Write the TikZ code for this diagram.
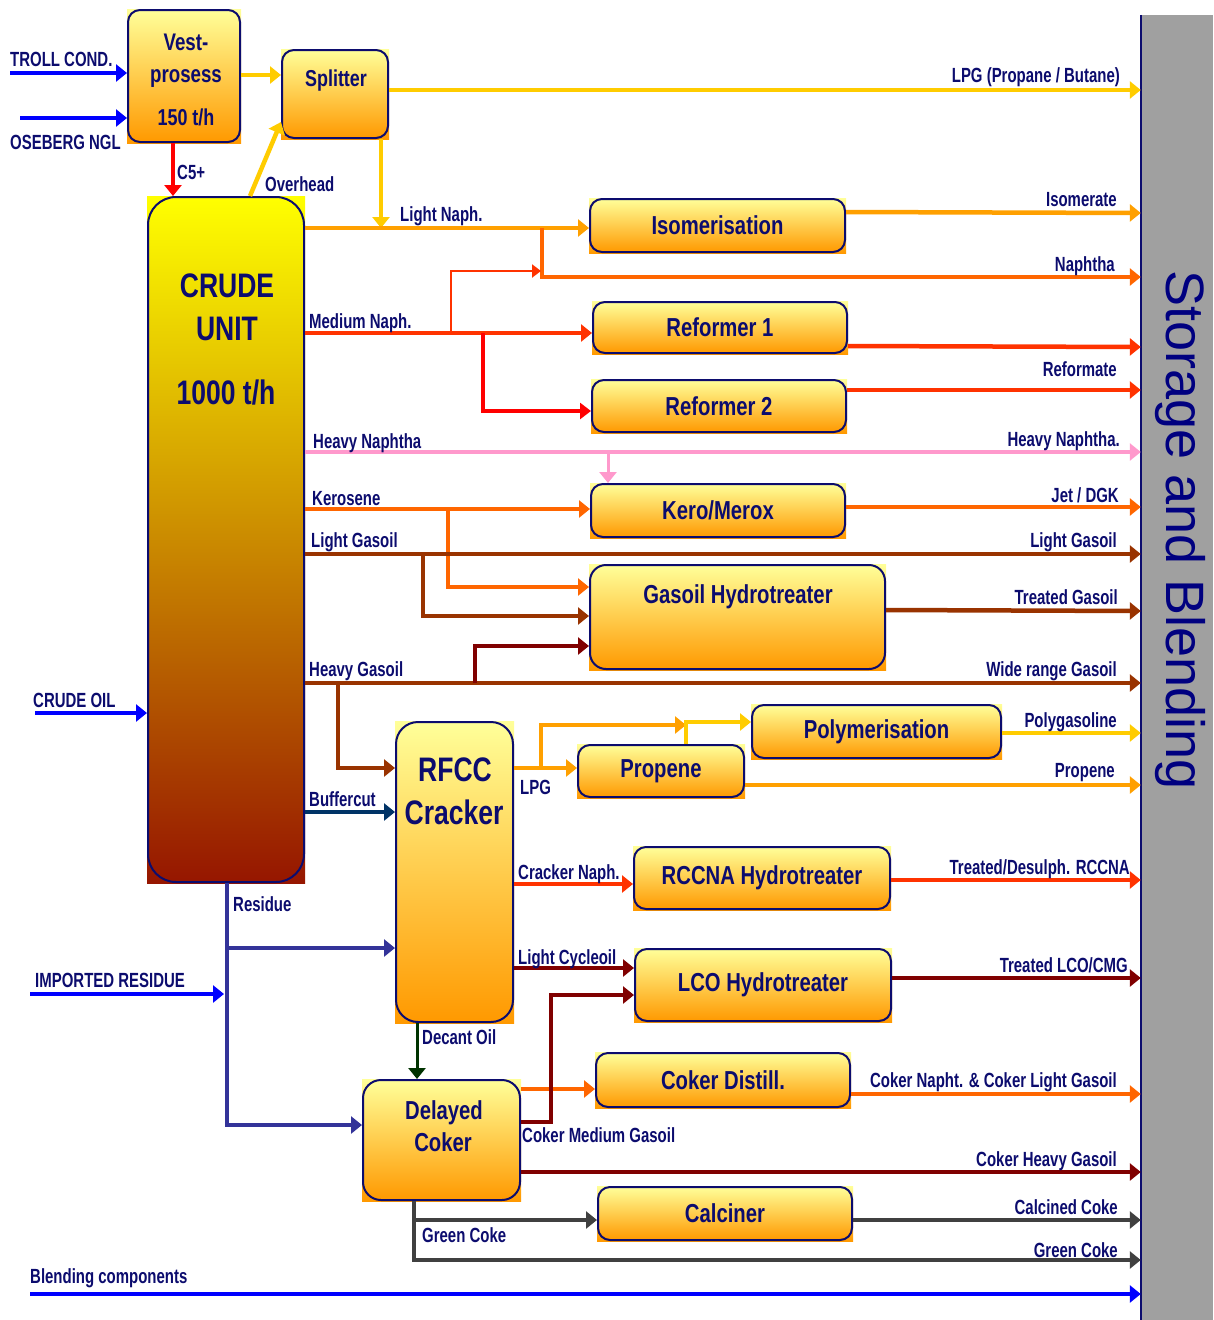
\documentclass[tikz,border=0pt]{standalone}
\usepackage{fontspec}
\setmainfont{Liberation Sans}
\newfontfamily\cond[FakeStretch=0.78]{Liberation Sans}
\newfontfamily\condl[FakeStretch=0.73]{Liberation Sans}
\usetikzlibrary{arrows.meta,backgrounds}
\definecolor{cBlue}{RGB}{0,0,255}
\definecolor{cYel}{RGB}{255,204,0}
\definecolor{cOrL}{RGB}{255,160,0}
\definecolor{cOrD}{RGB}{255,102,0}
\definecolor{cRedO}{RGB}{255,51,0}
\definecolor{cRed}{RGB}{255,0,0}
\definecolor{cPink}{RGB}{255,153,204}
\definecolor{cBrown}{RGB}{153,51,0}
\definecolor{cMaroon}{RGB}{128,0,0}
\definecolor{cBuf}{RGB}{0,51,102}
\definecolor{cRes}{RGB}{51,51,153}
\definecolor{cGreen}{RGB}{0,51,0}
\definecolor{cGray}{RGB}{64,64,64}
\definecolor{cStore}{RGB}{160,160,160}
\definecolor{boxtop}{RGB}{255,255,153}
\definecolor{boxbot}{RGB}{255,153,0}
\definecolor{crtop}{RGB}{255,255,0}
\definecolor{crmid}{RGB}{205,165,0}
\definecolor{crbot}{RGB}{150,22,0}
\definecolor{txt}{RGB}{12,12,110}
\definecolor{stortxt}{RGB}{0,0,128}
\begin{document}
\begin{tikzpicture}[x=1pt,y=-1pt,
  flow/.style={line width=4.5pt,-{Triangle[length=11pt,width=17pt]}},
  thinflow/.style={line width=2.5pt,-{Triangle[length=9pt,width=13pt]}},
  pipe/.style={line width=4.5pt},
  lbl/.style={font=\condl\bfseries\fontsize{20.5}{22}\selectfont,text=txt,inner sep=0pt},
  lbll/.style={lbl,anchor=base west},
  lblr/.style={lbl,anchor=base east},
  unit/.style={draw=txt,line width=2pt,rounded corners=12pt,top color=boxtop,bottom color=boxbot,inner sep=0pt,font=\cond\bfseries\fontsize{26}{28}\selectfont,text=txt,align=center},
  utext/.style={font=\cond\bfseries\fontsize{26}{28}\selectfont,text=txt,inner sep=0pt,anchor=base},
  bigtext/.style={font=\cond\bfseries\fontsize{34}{36}\selectfont,text=txt,inner sep=0pt,anchor=base}
]
\useasboundingbox (0,0) rectangle (1213,1320);

% storage bar
\node[fill=cStore,inner sep=0pt,minimum width=72pt,minimum height=1305pt] (storage) at (1177,667.5) {};
\draw[txt,line width=2pt] (storage.north west) -- (storage.south west);
\node[rotate=-90,font=\fontsize{54}{54}\selectfont,text=stortxt,inner sep=0pt] (stT) at (1180,530) {Storage and Blending};

% units
\node[unit,minimum width=112pt,minimum height=132pt] (vest) at (184,76) {};
\node[unit,minimum width=106pt,minimum height=88pt] (split) at (335,94) {};
\node[draw=txt,line width=2pt,rounded corners=28pt,top color=crtop,middle color=crmid,bottom color=crbot,minimum width=156pt,minimum height=685pt,inner sep=0pt] (crude) at (226,539.5) {};
\node[unit,minimum width=255pt,minimum height=53pt] (iso) at (717.5,225.5) {Isomerisation};
\node[unit,minimum width=254pt,minimum height=51pt] (ref1) at (720,327.5) {Reformer 1};
\node[unit,minimum width=254pt,minimum height=52pt] (ref2) at (719,406) {Reformer 2};
\node[unit,minimum width=254pt,minimum height=53pt] (kero) at (718,510.5) {Kero/Merox};
\node[unit,minimum width=295pt,minimum height=104pt,rounded corners=16pt] (goht) at (737.5,617) {};
\node[unit,minimum width=249pt,minimum height=53pt] (poly) at (876.5,731.5) {Polymerisation};
\node[unit,minimum width=166pt,minimum height=52pt] (prop) at (661,771) {Propene};
\node[unit,minimum width=117pt,minimum height=300pt,rounded corners=22pt] (rfcc) at (454.5,872) {};
\node[unit,minimum width=256pt,minimum height=62pt] (rccna) at (762,878) {RCCNA Hydrotreater};
\node[unit,minimum width=256pt,minimum height=72pt] (lco) at (763,985) {LCO Hydrotreater};
\node[unit,minimum width=254pt,minimum height=54pt] (cdist) at (723,1080) {Coker Distill.};
\node[unit,minimum width=157pt,minimum height=120pt,rounded corners=18pt] (dcoker) at (441.5,1140) {};
\node[unit,minimum width=254pt,minimum height=53pt] (calc) at (725,1213.5) {Calciner};

% square gradient backing (visible at corners)
\begin{scope}[on background layer]
\foreach \n in {vest,split,iso,ref1,ref2,kero,goht,poly,prop,rfcc,rccna,lco,cdist,dcoker,calc}
  \shade[top color=boxtop,bottom color=boxbot] (\n.north west) rectangle (\n.south east);
\shade[top color=crtop,middle color=crmid,bottom color=crbot] (crude.north west) rectangle (crude.south east);
\end{scope}

% unit texts
\node[utext,font=\cond\bfseries\fontsize{24}{26}\selectfont] (vestA) at (186,50) {Vest-};
\node[utext,font=\cond\bfseries\fontsize{24}{26}\selectfont] (vestB) at (186,82) {prosess};
\node[utext,font=\cond\bfseries\fontsize{23}{26}\selectfont] (vestC) at (186,125) {150 t/h};
\node[utext,font=\cond\bfseries\fontsize{23}{26}\selectfont] (splitT) at (336,86) {Splitter};
\node[bigtext] (crA) at (227,297) {CRUDE};
\node[bigtext] (crB) at (227,340) {UNIT};
\node[bigtext] (crC) at (226,404) {1000 t/h};
\node[utext] (gohtT) at (738,603) {Gasoil Hydrotreater};
\node[bigtext] (rfA) at (455,781) {RFCC};
\node[bigtext] (rfB) at (454,824) {Cracker};
\node[utext] (dcA) at (444,1119) {Delayed};
\node[utext] (dcB) at (443,1151) {Coker};

% free ends and junctions
\coordinate (trollS) at (10,73);
\coordinate (oseS) at (20,118);
\coordinate (crudeS) at (35,713);
\coordinate (impS) at (30,994);
\coordinate (impE) at (224,994);
\coordinate (blendS) at (30,1294);
\coordinate (lnJ) at (381,228);
\coordinate (nJ) at (542,228);
\coordinate (mJ1) at (451,333);
\coordinate (nT) at (541,271);
\coordinate (mJ2) at (483,333);
\coordinate (hnJ) at (608,452);
\coordinate (kJ) at (448,509);
\coordinate (lgJ) at (423,554);
\coordinate (hgJ1) at (475,683);
\coordinate (hgJ2) at (338,683);
\coordinate (rJ1) at (227,948);
\coordinate (rJ2) at (227,1125);
\coordinate (lpJ) at (541,768);
\coordinate (lpT) at (686,725);
\coordinate (pyJ) at (686,722);
\coordinate (cmJ) at (551,1122);
\coordinate (gcJ) at (414,1220);
\coordinate (gcK) at (414,1260);

% feeds
\draw[flow,cBlue] (trollS) -- (trollS -| vest.west);
\draw[flow,cBlue] (oseS) -- (oseS -| vest.west);
\draw[flow,cYel] (vest.east |- 0,75) -- (split.west |- 0,75);
\draw[flow,cRed] (vest.south -| 173,0) -- (crude.north -| 173,0);
\draw[flow,cYel] (crude.north -| 250,0) -- (split.west |- 0,122);
\draw[flow,cYel] (split.east |- 0,90) -- (storage.west |- 0,90);
\draw[flow,cYel] (split.south -| lnJ) -- (lnJ);
\draw[flow,cBlue] (crudeS) -- (crudeS -| crude.west);

% naphtha section
\draw[flow,cOrL] (crude.east |- 0,228) -- (iso.west |- 0,228);
\draw[flow,cOrD] (nJ) -- (542,277) -- (storage.west |- 0,277);
\draw[flow,cRedO] (crude.east |- 0,333) -- (ref1.west |- 0,333);
\draw[thinflow,cRedO] (mJ1) -- (mJ1 |- nT) -- (nT);
\draw[line width=3.5pt,-{Triangle[length=11pt,width=16pt]},cRed] (mJ2) -- (483,411) -- (ref2.west |- 0,411);
\draw[flow,cOrL] (iso.east |- 0,212) -- (storage.west |- 0,213);
\draw[flow,cRedO] (ref1.east |- 0,346) -- (storage.west |- 0,347);
\draw[flow,cRedO] (ref2.east |- 0,390) -- (storage.west |- 0,390);

% middle distillates
\draw[flow,cPink] (crude.east |- 0,452) -- (storage.west |- 0,452);
\draw[flow,cPink,line width=3pt] (hnJ) -- (hnJ |- kero.north);
\draw[flow,cOrD] (crude.east |- 0,509) -- (kero.west |- 0,509);
\draw[flow,cOrD] (kJ) -- (448,587) -- (goht.west |- 0,587);
\draw[flow,cOrD] (kero.east |- 0,507) -- (storage.west |- 0,507);
\draw[flow,cBrown] (crude.east |- 0,554) -- (storage.west |- 0,554);
\draw[flow,cBrown] (lgJ) -- (423,616) -- (goht.west |- 0,616);
\draw[flow,cBrown] (goht.east |- 0,610) -- (storage.west |- 0,611);
\draw[flow,cBrown] (crude.east |- 0,683) -- (storage.west |- 0,683);
\draw[flow,cMaroon] (hgJ1) -- (475,646) -- (goht.west |- 0,646);
\draw[flow,cBrown] (hgJ2) -- (338,768) -- (rfcc.west |- 0,768);
\draw[flow,cBuf] (crude.east |- 0,812) -- (rfcc.west |- 0,812);

% residue
\draw[flow,cRes] (crude.south -| rJ1) -- (rJ2) -- (rJ2 -| dcoker.west);
\draw[flow,cRes] (rJ1) -- (rJ1 -| rfcc.west);
\draw[flow,cBlue] (impS) -- (impE);

% RFCC products
\draw[flow,cOrL] (rfcc.east |- 0,768) -- (prop.west |- 0,768);
\draw[flow,cOrL] (lpJ) -- (lpJ |- lpT) -- (lpT);
\draw[flow,cYel] (prop.north -| pyJ) -- (pyJ) -- (poly.west |- pyJ);
\draw[flow,cYel] (poly.east |- 0,733) -- (storage.west |- 0,733);
\draw[flow,cOrL] (prop.east |- 0,785) -- (storage.west |- 0,785);
\draw[flow,cRedO] (rfcc.east |- 0,884) -- (rccna.west |- 0,884);
\draw[flow,cRedO] (rccna.east |- 0,880) -- (storage.west |- 0,880);
\draw[flow,cMaroon] (rfcc.east |- 0,968) -- (lco.west |- 0,968);
\draw[flow,cMaroon] (lco.east |- 0,978) -- (storage.west |- 0,978);
\draw[flow,cGreen,line width=3pt] (rfcc.south -| 417,0) -- (dcoker.north -| 417,0);

% coker products
\draw[flow,cOrD] (dcoker.east |- 0,1089) -- (cdist.west |- 0,1089);
\draw[flow,cMaroon,line width=3.5pt] (dcoker.east |- cmJ) -- (cmJ) -- (551,995) -- (lco.west |- 0,995);
\draw[flow,cOrD] (cdist.east |- 0,1094) -- (storage.west |- 0,1094);
\draw[flow,cMaroon] (dcoker.east |- 0,1172) -- (storage.west |- 0,1172);
\draw[flow,cGray] (dcoker.south -| gcK) -- (gcK) -- (storage.west |- gcK);
\draw[flow,cGray] (gcJ) -- (gcJ -| calc.west);
\draw[flow,cGray] (calc.east |- 0,1220) -- (storage.west |- 0,1220);
\draw[flow,cBlue] (blendS) -- (storage.west |- blendS);

% left labels
\node[lbll] (lTroll) at (10,66) {TROLL COND.};
\node[lbll] (lOse) at (10,149) {OSEBERG NGL};
\node[lbll] (lC5) at (177,179) {C5+};
\node[lbll] (lOver) at (265,191) {Overhead};
\node[lbll] (lLN) at (400,221) {Light Naph.};
\node[lbll] (lMN) at (309,328) {Medium Naph.};
\node[lbll] (lHN) at (313,448) {Heavy Naphtha};
\node[lbll] (lKer) at (312,505) {Kerosene};
\node[lbll] (lLG) at (311,547) {Light Gasoil};
\node[lbll] (lHG) at (309,676) {Heavy Gasoil};
\node[lbll] (lCO) at (33,707) {CRUDE OIL};
\node[lbll] (lBuf) at (309,806) {Buffercut};
\node[lbll] (lLPG) at (520,794) {LPG};
\node[lbll] (lCN) at (518,879) {Cracker Naph.};
\node[lbll] (lRes) at (233,911) {Residue};
\node[lbll] (lLCO) at (518,964) {Light Cycleoil};
\node[lbll] (lImp) at (35,987) {IMPORTED RESIDUE};
\node[lbll] (lDec) at (422,1044) {Decant Oil};
\node[lbll] (lCMG) at (522,1142) {Coker Medium Gasoil};
\node[lbll] (lGC) at (422,1242) {Green Coke};
\node[lbll] (lBlend) at (30,1283) {Blending components};

% right labels
\node[lblr] (rLPG) at (1120,82) {LPG (Propane / Butane)};
\node[lblr] (rIso) at (1117,206) {Isomerate};
\node[lblr] (rNap) at (1115,271) {Naphtha};
\node[lblr] (rRef) at (1117,376) {Reformate};
\node[lblr] (rHN) at (1120,446) {Heavy Naphtha.};
\node[lblr] (rJet) at (1119,502) {Jet / DGK};
\node[lblr] (rLG) at (1117,547) {Light Gasoil};
\node[lblr] (rTG) at (1118,604) {Treated Gasoil};
\node[lblr] (rWG) at (1117,676) {Wide range Gasoil};
\node[lblr] (rPoly) at (1117,727) {Polygasoline};
\node[lblr] (rProp) at (1115,777) {Propene};
\node[lblr] (rRCC) at (1130,874) {Treated/Desulph. RCCNA};
\node[lblr] (rLCO) at (1128,972) {Treated LCO/CMG};
\node[lblr] (rCN) at (1117,1087) {Coker Napht. \& Coker Light Gasoil};
\node[lblr] (rCHG) at (1117,1166) {Coker Heavy Gasoil};
\node[lblr] (rCC) at (1118,1214) {Calcined Coke};
\node[lblr] (rGC) at (1118,1257) {Green Coke};
\end{tikzpicture}
\end{document}
